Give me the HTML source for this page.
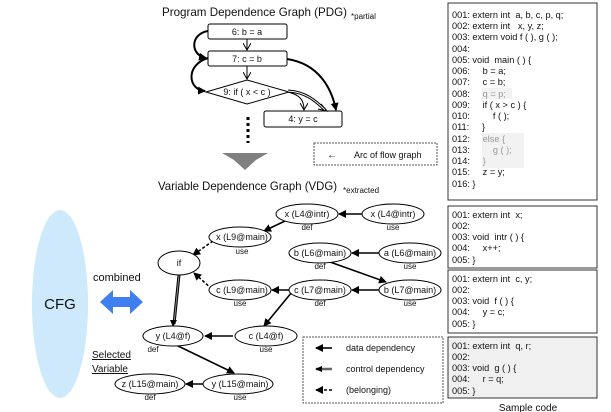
<!DOCTYPE html>
<html><head><meta charset="utf-8"><style>
html,body{margin:0;padding:0;background:#fff}
svg{display:block}
text{font-family:"Liberation Sans",Arial,sans-serif;fill:#111;white-space:pre}
</style></head><body>
<svg width="611" height="412" viewBox="0 0 611 412" xmlns="http://www.w3.org/2000/svg" xml:space="preserve">
<defs>
<marker id="a" markerWidth="8" markerHeight="8" refX="7" refY="4" orient="auto" markerUnits="userSpaceOnUse"><path d="M0,0 L8,4 L0,8 Z" fill="#000"/></marker>
<marker id="o" markerWidth="8" markerHeight="8" refX="7" refY="4" orient="auto" markerUnits="userSpaceOnUse"><path d="M0,0 L7,4 L0,8" fill="none" stroke="#000"/></marker>
</defs>
<!-- PDG -->
<text x="162" y="16" font-size="12" textLength="185" lengthAdjust="spacingAndGlyphs">Program Dependence Graph (PDG)</text>
<text x="351" y="19" font-size="8">*partial</text>
<rect x="208" y="24" width="79" height="15" rx="2" fill="#fff" stroke="#000"/>
<text x="247" y="35" font-size="9" text-anchor="middle">6: b = a</text>
<rect x="208" y="51" width="79" height="15" rx="2" fill="#fff" stroke="#000"/>
<text x="247" y="62" font-size="9" text-anchor="middle">7: c = b</text>
<polygon points="247,80 289,92 247,104 206,92" fill="#fff" stroke="#000"/>
<text x="247" y="95" font-size="9" text-anchor="middle">9: if ( x &lt; c )</text>
<rect x="264" y="111" width="78" height="16" rx="2" fill="#fff" stroke="#000"/>
<text x="303" y="122" font-size="9" text-anchor="middle">4: y = c</text>
<line x1="247" y1="39" x2="247" y2="50" stroke="#000" marker-end="url(#o)"/>
<line x1="247" y1="66" x2="247" y2="79" stroke="#000" marker-end="url(#o)"/>
<path d="M208,31 C190,34 190,55 206,58" fill="none" stroke="#000" stroke-width="2" marker-end="url(#a)"/>
<path d="M208,58 C185,65 188,90 205,91" fill="none" stroke="#000" stroke-width="2" marker-end="url(#a)"/>
<path d="M287,59 C320,64 332,90 336,110" fill="none" stroke="#000" stroke-width="2" marker-end="url(#a)"/>
<path d="M288,92 C300,95 304,100 304,110" fill="none" stroke="#000" marker-end="url(#o)"/>
<path d="M288,91 C305,92 315,100 325,110" fill="none" stroke="#000" stroke-width="3"/>
<path d="M288,91 C305,92 315,100 325,110" fill="none" stroke="#fff" stroke-width="1"/>
<path d="M321,104 L327,111 L318,109" fill="none" stroke="#000"/>
<line x1="248" y1="117" x2="248" y2="143" stroke="#000" stroke-width="3" stroke-dasharray="3,3"/>
<polygon points="222,153 268,153 256,160 245,170 234,160" fill="#808080"/>
<rect x="314" y="143" width="123" height="22" fill="#fff" stroke="#555" stroke-dasharray="2,1"/>
<text x="327" y="158" font-size="10">←</text>
<text x="354" y="158" font-size="9">Arc of flow graph</text>
<text x="158" y="190" font-size="12" textLength="179" lengthAdjust="spacingAndGlyphs">Variable Dependence Graph (VDG)</text>
<text x="343" y="193" font-size="8">*extracted</text>
<!-- CFG -->
<ellipse cx="60" cy="304" rx="28" ry="94" fill="#cde9fb"/>
<text x="60" y="309" font-size="15" text-anchor="middle">CFG</text>
<text x="93" y="281" font-size="11">combined</text>
<polygon points="100,302 113,290 113,297 130,297 130,290 143,302 130,314 130,307 113,307 113,314" fill="#3f7ff0"/>
<text x="92" y="358" font-size="10" text-decoration="underline">Selected</text>
<text x="92" y="372" font-size="10" text-decoration="underline">Variable</text>
<!-- VDG edges -->
<g stroke="#000" stroke-width="1.6" fill="none">
<line x1="363" y1="214" x2="339" y2="214" marker-end="url(#a)"/>
<line x1="285" y1="221" x2="264" y2="231" marker-end="url(#a)"/>
<line x1="380" y1="253" x2="352" y2="253" marker-end="url(#a)"/>
<line x1="330" y1="262" x2="386" y2="282" marker-end="url(#a)"/>
<line x1="380" y1="290" x2="352" y2="290" marker-end="url(#a)"/>
<line x1="290" y1="290" x2="272" y2="290" marker-end="url(#a)"/>
<line x1="292" y1="292" x2="264" y2="326" marker-end="url(#a)"/>
<line x1="233" y1="336" x2="205" y2="336" marker-end="url(#a)"/>
<line x1="176" y1="345" x2="234" y2="373" marker-end="url(#a)"/>
<line x1="203" y1="384" x2="186" y2="384" marker-end="url(#a)"/>
<line x1="213" y1="241" x2="193" y2="255" stroke-dasharray="3,2" marker-end="url(#a)"/>
<line x1="212" y1="289" x2="194" y2="273" stroke-dasharray="3,2" marker-end="url(#a)"/>
</g>
<line x1="179" y1="275" x2="174" y2="324" stroke="#000" stroke-width="3"/>
<line x1="179" y1="275" x2="174" y2="324" stroke="#888" stroke-width="1"/>
<path d="M170,320 L173,327 L177,320 Z" fill="#000"/>
<!-- VDG nodes -->
<g fill="#fff" stroke="#000">
<ellipse cx="307" cy="214" rx="31" ry="10"/>
<ellipse cx="393" cy="214" rx="31" ry="10"/>
<ellipse cx="240" cy="237" rx="31" ry="10"/>
<ellipse cx="179" cy="263" rx="21" ry="12"/>
<ellipse cx="320" cy="253" rx="31" ry="10"/>
<ellipse cx="410" cy="253" rx="31" ry="10"/>
<ellipse cx="240" cy="290" rx="31" ry="10"/>
<ellipse cx="320" cy="290" rx="31" ry="10"/>
<ellipse cx="410" cy="290" rx="31" ry="10"/>
<ellipse cx="173" cy="336" rx="30" ry="10"/>
<ellipse cx="266" cy="336" rx="31" ry="10"/>
<ellipse cx="238" cy="384" rx="35" ry="10"/>
<ellipse cx="150" cy="384" rx="35" ry="10"/>
</g>
<g font-size="9" text-anchor="middle">
<text x="307" y="217">x (L4@intr)</text><text x="307" y="230" font-size="8">def</text>
<text x="393" y="217">x (L4@intr)</text><text x="393" y="230" font-size="8">use</text>
<text x="242" y="240">x (L9@main)</text><text x="242" y="254" font-size="8">use</text>
<text x="179" y="266">if</text>
<text x="320" y="256">b (L6@main)</text><text x="320" y="269" font-size="8">def</text>
<text x="410" y="256">a (L6@main)</text><text x="410" y="269" font-size="8">use</text>
<text x="242" y="293">c (L9@main)</text><text x="240" y="306" font-size="8">use</text>
<text x="320" y="293">c (L7@main)</text><text x="320" y="306" font-size="8">def</text>
<text x="410" y="293">b (L7@main)</text><text x="410" y="306" font-size="8">use</text>
<text x="173" y="339">y (L4@f)</text><text x="153" y="352" font-size="8">def</text>
<text x="266" y="339">c (L4@f)</text><text x="266" y="352" font-size="8">use</text>
<text x="240" y="387">y (L15@main)</text><text x="240" y="400" font-size="8">use</text>
<text x="150" y="387">z (L15@main)</text><text x="150" y="400" font-size="8">def</text>
</g>
<!-- legend -->
<rect x="303" y="337" width="140" height="66" fill="#fff" stroke="#555" stroke-dasharray="2,1"/>
<g stroke-width="1.6" fill="none">
<line x1="332" y1="348" x2="316" y2="348" stroke="#000" marker-end="url(#a)"/>
<line x1="332" y1="369" x2="316" y2="369" stroke="#666" stroke-width="2.5"/>
<line x1="332" y1="390" x2="316" y2="390" stroke="#000" stroke-dasharray="3,2" marker-end="url(#a)"/>
</g>
<path d="M322,366 L315,369 L322,372 Z" fill="#000"/>
<g font-size="9"><text x="346" y="351">data dependency</text><text x="346" y="372">control dependency</text><text x="346" y="393">(belonging)</text></g>
<!-- code boxes -->
<g fill="#fff" stroke="#333">
<rect x="448" y="3" width="149" height="197"/>
<rect x="448" y="206" width="149" height="62"/>
<rect x="448" y="270" width="149" height="63"/>
<rect x="448" y="337" width="149" height="61" fill="#f0f0f0"/>
</g>
<rect x="482" y="88" width="30" height="11" fill="#f2f2f2"/>
<rect x="482" y="133" width="42" height="35" fill="#f2f2f2"/>
<g font-size="9.2">
<text x="452" y="18">001: extern int  a, b, c, p, q;</text>
<text x="452" y="29">002: extern int   x, y, z;</text>
<text x="452" y="40">003: extern void f ( ), g ( );</text>
<text x="452" y="52">004:</text>
<text x="452" y="63">005: void  main ( ) {</text>
<text x="452" y="74">006:     b = a;</text>
<text x="452" y="85">007:     c = b;</text>
<text x="452" y="97">008:     <tspan fill="#999">q = p;</tspan></text>
<text x="452" y="108">009:     if ( x &gt; c ) {</text>
<text x="452" y="119">010:         f ( );</text>
<text x="452" y="130">011:     }</text>
<text x="452" y="142">012:     <tspan fill="#999">else {</tspan></text>
<text x="452" y="153">013:         <tspan fill="#999">g ( );</tspan></text>
<text x="452" y="164">014:     <tspan fill="#999">}</tspan></text>
<text x="452" y="175">015:     z = y;</text>
<text x="452" y="187">016: }</text>
<text x="452" y="218">001: extern int  x;</text>
<text x="452" y="229">002:</text>
<text x="452" y="240">003: void  intr ( ) {</text>
<text x="452" y="251">004:     x++;</text>
<text x="452" y="263">005: }</text>
<text x="452" y="282">001: extern int  c, y;</text>
<text x="452" y="293">002:</text>
<text x="452" y="304">003: void  f ( ) {</text>
<text x="452" y="315">004:     y = c;</text>
<text x="452" y="327">005: }</text>
<text x="452" y="349">001: extern int  q, r;</text>
<text x="452" y="360">002:</text>
<text x="452" y="371">003: void  g ( ) {</text>
<text x="452" y="382">004:     r = q;</text>
<text x="452" y="394">005: }</text>
</g>
<text x="528" y="411" font-size="10" text-anchor="middle">Sample code</text>
</svg>
</body></html>
